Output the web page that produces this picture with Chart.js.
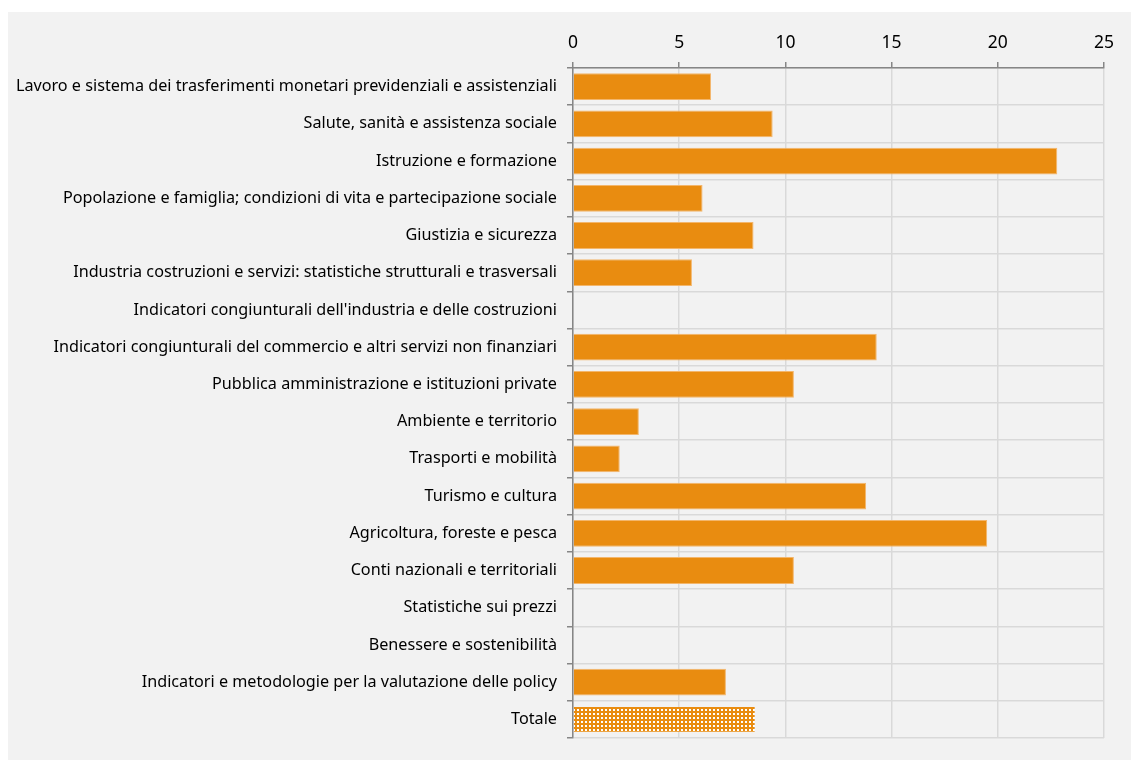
<!DOCTYPE html>
<html>
<head>
<meta charset="utf-8">
<script src="https://cdn.jsdelivr.net/npm/chart.js@4.4.1/dist/chart.umd.min.js"></script>
<style>
  html, body { margin: 0; padding: 0; background: #ffffff; }
  #wrap { position: absolute; left: 8px; top: 12px; width: 1123px; height: 748px; background: #f2f2f2; }
</style>
</head>
<body>
<div id="wrap"><canvas id="chart" width="1123" height="748"></canvas></div>
<script>
const categories = [
  'Lavoro e sistema dei trasferimenti monetari previdenziali e assistenziali',
  'Salute, sanità e assistenza sociale',
  'Istruzione e formazione',
  'Popolazione e famiglia; condizioni di vita e partecipazione sociale',
  'Giustizia e sicurezza',
  'Industria costruzioni e servizi: statistiche strutturali e trasversali',
  "Indicatori congiunturali dell'industria e delle costruzioni",
  'Indicatori congiunturali del commercio e altri servizi non finanziari',
  'Pubblica amministrazione e istituzioni private',
  'Ambiente e territorio',
  'Trasporti e mobilità',
  'Turismo e cultura',
  'Agricoltura, foreste e pesca',
  'Conti nazionali e territoriali',
  'Statistiche sui prezzi',
  'Benessere e sostenibilità',
  'Indicatori e metodologie per la valutazione delle policy',
  'Totale'
];
const values = [6.5, 9.4, 22.8, 6.1, 8.5, 5.6, 0, 14.3, 10.4, 3.1, 2.2, 13.8, 19.5, 10.4, 0, 0, 7.2, 8.6];
const xTicks = [0, 5, 10, 15, 20, 25];

const ORANGE = '#e98c10';

// dotted fill for the total row
function dotPattern() {
  const c = document.createElement('canvas');
  c.width = 4; c.height = 4;
  const g = c.getContext('2d');
  g.fillStyle = ORANGE;
  g.fillRect(0, 0, 4, 4);
  g.fillStyle = '#ffffff';
  g.fillRect(1, 1, 2, 2);
  return g.createPattern(c, 'repeat');
}

const ctx = document.getElementById('chart').getContext('2d');
const fills = categories.map(c => c === 'Totale' ? dotPattern() : ORANGE);

new Chart(ctx, {
  type: 'bar',
  data: {
    labels: categories,
    datasets: [{
      data: values,
      backgroundColor: fills,
      borderColor: categories.map(c => c === 'Totale' ? 'rgba(0,0,0,0)' : '#f3b66c'),
      borderWidth: 1,
      borderSkipped: 'start',
      barPercentage: 0.9,
      categoryPercentage: 0.8
    }]
  },
  options: {
    indexAxis: 'y',
    responsive: false,
    animation: false,
    layout: { padding: { left: 0, top: 0, right: 27, bottom: 22 } },
    plugins: { legend: { display: false }, tooltip: { enabled: false } },
    scales: {
      x: {
        position: 'top',
        min: 0,
        max: 25,
        afterBuildTicks: s => { s.ticks = xTicks.map(v => ({ value: v })); },
        afterFit: s => { s.height = 56; },
        grid: { color: '#d9d9d9', lineWidth: 1.5, tickColor: '#868686', tickLength: 6 },
        border: { color: '#868686', width: 1.5 },
        ticks: { color: '#000000', font: { family: 'Noto Sans', size: 17.5 }, padding: 8 }
      },
      y: {
        afterFit: s => { s.width = 565; },
        grid: { color: '#d9d9d9', lineWidth: 1.5, tickColor: '#868686', tickLength: 6, offset: true },
        border: { color: '#868686', width: 1.5 },
        ticks: { color: '#000000', font: { family: 'Noto Sans', size: 16.2 }, padding: 10, autoSkip: false }
      }
    }
  }
});
</script>
</body>
</html>
